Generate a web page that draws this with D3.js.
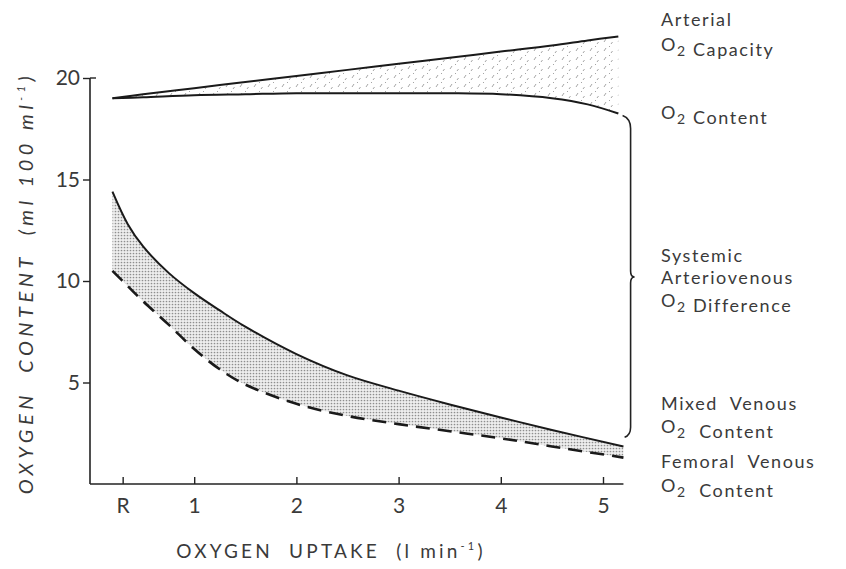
<!DOCTYPE html>
<html>
<head>
<meta charset="utf-8">
<script src="https://cdn.jsdelivr.net/npm/d3@7"></script>
<style>
  body { margin: 0; background: #fff; }
  text { font-family: Lato, "DejaVu Sans", sans-serif; fill: #3a3a3a; white-space: pre; }
</style>
</head>
<body>
<script>
// O2 content vs O2 uptake

var arterialX = [0.2, 0.5, 1, 1.5, 2, 2.5, 3, 3.5, 4, 4.5, 4.85, 5.15];
var capacity  = [19.0, 19.2, 19.5, 19.8, 20.1, 20.4, 20.7, 21.0, 21.3, 21.6, 21.85, 22.05];
var arterial  = [19.0, 19.05, 19.15, 19.2, 19.25, 19.25, 19.25, 19.25, 19.2, 19.0, 18.7, 18.25];

var venousX   = [0.2, 0.35, 0.5, 0.75, 1, 1.25, 1.5, 2, 2.5, 3, 3.5, 4, 4.5, 5.2];
var mixed     = [14.4, 12.8, 11.7, 10.4, 9.4, 8.55, 7.75, 6.4, 5.35, 4.6, 3.92, 3.28, 2.66, 1.85];
var femoral   = [10.5, 9.75, 9.0, 7.85, 6.65, 5.65, 4.9, 3.95, 3.35, 2.95, 2.6, 2.25, 1.85, 1.3];

var xTicks = [0.3, 1, 2, 3, 4, 5];
var xTickLabels = ['R', '1', '2', '3', '4', '5'];
var yTicks = [5, 10, 15, 20];

var W = 846, H = 569;

var x = d3.scaleLinear().domain([0, 5]).range([92, 603]);
var y = d3.scaleLinear().domain([0, 20]).range([484, 78]);

var svg = d3.select('body').append('svg')
    .attr('width', W)
    .attr('height', H);

// fill patterns
var defs = svg.append('defs');
var dots = defs.append('pattern')
    .attr('id', 'dots')
    .attr('width', 3).attr('height', 3)
    .attr('patternUnits', 'userSpaceOnUse');
dots.append('rect').attr('width', 3).attr('height', 3).attr('fill', '#eeeeee');
dots.append('circle').attr('cx', 1.5).attr('cy', 1.5).attr('r', 0.85).attr('fill', '#8e8e8e');

var sparse = defs.append('pattern')
    .attr('id', 'sparse')
    .attr('width', 14).attr('height', 9)
    .attr('patternUnits', 'userSpaceOnUse');
sparse.append('path')
    .attr('d', 'M2,6 L4,3 M9,8 L10.5,6 M7,2 L8,1')
    .attr('stroke', '#a5a5a5')
    .attr('stroke-width', 1);

// shaded bands
var artData = arterialX.map((d, i) => ({x: d, hi: capacity[i], lo: arterial[i]}));
var venData = venousX.map((d, i) => ({x: d, hi: mixed[i], lo: femoral[i]}));

var band = d3.area()
    .x(d => x(d.x))
    .y0(d => y(d.lo))
    .y1(d => y(d.hi))
    .curve(d3.curveCatmullRom);

svg.append('path').datum(artData)
    .attr('d', band)
    .attr('fill', 'url(#sparse)');

svg.append('path').datum(venData)
    .attr('d', band)
    .attr('fill', 'url(#dots)');

function line(key) {
  return d3.line()
    .x(d => x(d.x))
    .y(d => y(d[key]))
    .curve(d3.curveCatmullRom);
}

svg.append('path').datum(artData)
    .attr('d', line('hi'))
    .attr('fill', 'none').attr('stroke', '#1a1a1a').attr('stroke-width', 2);
svg.append('path').datum(artData)
    .attr('d', line('lo'))
    .attr('fill', 'none').attr('stroke', '#1a1a1a').attr('stroke-width', 2);
svg.append('path').datum(venData)
    .attr('d', line('hi'))
    .attr('fill', 'none').attr('stroke', '#1a1a1a').attr('stroke-width', 2);
svg.append('path').datum(venData)
    .attr('d', line('lo'))
    .attr('fill', 'none').attr('stroke', '#1a1a1a').attr('stroke-width', 2.6)
    .attr('stroke-dasharray', '14,8');

// axes
var xAxis = d3.axisBottom(x)
    .tickValues(xTicks)
    .tickSizeInner(-7)
    .tickSizeOuter(0)
    .tickPadding(14)
    .tickFormat((d, i) => xTickLabels[i]);

var gx = svg.append('g')
    .attr('transform', 'translate(0,' + y(0) + ')')
    .call(xAxis);
gx.select('.domain').remove();
gx.append('line')
    .attr('x1', x(0) - 2).attr('x2', x(5.2))
    .attr('stroke', '#222').attr('stroke-width', 1.6);

var yAxis = d3.axisLeft(y)
    .tickValues(yTicks)
    .tickSize(7)
    .tickPadding(3)
    .tickFormat(d3.format('d'));

var gy = svg.append('g')
    .attr('transform', 'translate(' + (x(0) - 2) + ',0)')
    .call(yAxis);
gy.select('.domain').remove();
gy.append('line')
    .attr('y1', y(20)).attr('y2', y(0))
    .attr('stroke', '#222').attr('stroke-width', 1.6);
gy.append('line')
    .attr('x1', 0).attr('x2', 6)
    .attr('y1', y(20)).attr('y2', y(20))
    .attr('stroke', '#222').attr('stroke-width', 1.4);

svg.selectAll('.tick line').attr('stroke', '#222').attr('stroke-width', 1.4);
svg.selectAll('.tick text')
    .attr('font-size', 21)
    .attr('fill', '#3a3a3a')
    .style('font-family', 'Lato, "DejaVu Sans", sans-serif');

// axis titles
var xt = svg.append('text')
    .attr('x', 331).attr('y', 558)
    .attr('text-anchor', 'middle')
    .attr('font-size', 19)
    .attr('letter-spacing', 3.2);
xt.append('tspan').text('OXYGEN  UPTAKE  (l min');
xt.append('tspan').attr('font-size', 11).attr('dy', -8).text('-1');
xt.append('tspan').attr('dy', 8).text(')');

var yt = svg.append('text')
    .attr('transform', 'translate(33,283) rotate(-90)')
    .attr('text-anchor', 'middle')
    .attr('font-size', 20)
    .attr('font-style', 'italic')
    .attr('letter-spacing', 4.5);
yt.append('tspan').text('OXYGEN  CONTENT  (ml 100 ml');
yt.append('tspan').attr('font-size', 11).attr('dy', -8).text('-1');
yt.append('tspan').attr('dy', 8).text(')');

// brace for the a-v difference
var bx = x(5.27), bTop = y(18.0), bBot = y(2.4), bMid = (bTop + bBot) / 2;
svg.append('path')
    .attr('d', 'M' + (bx - 8) + ',' + (bTop - 3) + ' Q' + bx + ',' + bTop + ' ' + bx + ',' + (bTop + 10) +
               ' L' + bx + ',' + (bMid - 6) + ' Q' + bx + ',' + bMid + ' ' + (bx + 4) + ',' + bMid +
               ' Q' + bx + ',' + bMid + ' ' + bx + ',' + (bMid + 6) +
               ' L' + bx + ',' + (bBot - 8) + ' Q' + bx + ',' + bBot + ' ' + (bx - 6) + ',' + (bBot + 2))
    .attr('fill', 'none')
    .attr('stroke', '#222')
    .attr('stroke-width', 1.6);

// right-hand labels
function label(yPos, parts) {
  var t = svg.append('text')
      .attr('x', 661).attr('y', yPos)
      .attr('font-size', 18)
      .attr('letter-spacing', 1.6);
  parts.forEach(function(p) {
    if (p === 'O2') {
      t.append('tspan').text('O');
      t.append('tspan').attr('font-size', 14).attr('dy', 5).text('2');
      t.append('tspan').attr('dy', -5).text('');
    } else {
      t.append('tspan').text(p);
    }
  });
}

label(26, ['Arterial']);
label(51, ['O2', ' Capacity']);
label(119, ['O2', ' Content']);
label(262, ['Systemic']);
label(284, ['Arteriovenous']);
label(307, ['O2', ' Difference']);
label(410, ['Mixed  Venous']);
label(433, ['O2', '  Content']);
label(468, ['Femoral  Venous']);
label(492, ['O2', '  Content']);
</script>
</body>
</html>
